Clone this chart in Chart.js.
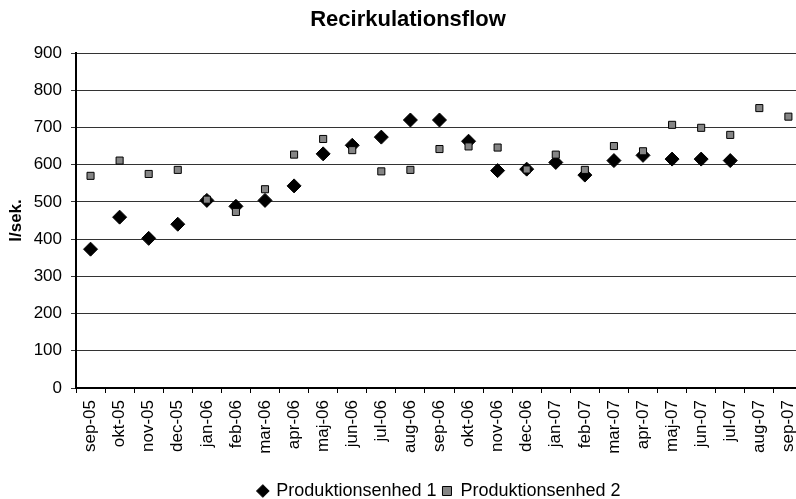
<!DOCTYPE html>
<html>
<head>
<meta charset="utf-8">
<title>Recirkulationsflow</title>
<script src="https://cdn.jsdelivr.net/npm/chart.js@4.4.0/dist/chart.umd.min.js"></script>
<style>
    html, body { margin: 0; padding: 0; background: #fff; overflow: hidden; }
    #wrap { width: 796px; height: 499px; overflow: hidden; }
    canvas { display: block; }
</style>
</head>
<body>
<div id="wrap">
    <canvas id="chart1" width="816" height="510"></canvas>
</div>
<script>
// Data
const months = ['sep-05', 'okt-05', 'nov-05', 'dec-05', 'jan-06', 'feb-06', 'mar-06', 'apr-06',
    'maj-06', 'jun-06', 'jul-06', 'aug-06', 'sep-06', 'okt-06', 'nov-06', 'dec-06',
    'jan-07', 'feb-07', 'mar-07', 'apr-07', 'maj-07', 'jun-07', 'jul-07', 'aug-07', 'sep-07'];
const enhed1 = [373, 459, 402, 440, 504, 488, 504, 543, 629, 652, 674, 720, 720,
    663, 584, 588, 606, 572, 611, 625, 615, 615, 611, null, null];
const enhed2 = [570, 611, 575, 586, 506, 473, 534, 627, 669, 639, 582, 586, 642,
    649, 646, 587, 627, 586, 650, 636, 707, 699, 680, 752, 729];
const yMin = 0;
const yMax = 900;
const yStep = 100;

const font = 'Liberation Sans, Arial, sans-serif';

document.addEventListener('DOMContentLoaded', () => {
    const ctx1 = document.getElementById('chart1').getContext('2d');
    new Chart(ctx1, {
        type: 'line',
        data: {
            labels: months,
            datasets: [{
                label: 'Produktionsenhed 1',
                data: enhed1,
                showLine: false,
                pointStyle: 'rectRot',
                pointRadius: 7,
                backgroundColor: '#000',
                borderColor: '#000',
                borderWidth: 1,
                order: 1
            }, {
                label: 'Produktionsenhed 2',
                data: enhed2,
                showLine: false,
                pointStyle: 'rect',
                pointRadius: 5,
                backgroundColor: '#858585',
                borderColor: '#000',
                borderWidth: 1,
                order: 0
            }]
        },
        options: {
            responsive: false,
            animation: false,
            // left padding nudges the title a bit to the right
            layout: { padding: { left: 10, right: 10, top: 0, bottom: 0 } },
            scales: {
                x: {
                    offset: true,
                    grid: {
                        offset: true,
                        drawOnChartArea: false,
                        tickLength: 5,
                        color: '#000'
                    },
                    border: { color: '#000', width: 2 },
                    ticks: {
                        autoSkip: false,
                        minRotation: 90,
                        maxRotation: 90,
                        padding: 7,
                        color: '#000',
                        font: { family: font, size: 17 }
                    },
                    afterFit: (scale) => { scale.height = 88; }
                },
                y: {
                    min: yMin,
                    max: yMax,
                    grid: { color: '#333', tickLength: 5 },
                    border: { color: '#000', width: 2 },
                    ticks: {
                        stepSize: yStep,
                        padding: 9,
                        color: '#000',
                        font: { family: font, size: 17 }
                    },
                    title: {
                        display: true,
                        text: 'l/sek.',
                        color: '#000',
                        padding: { top: -4, bottom: 0 },
                        font: { family: font, size: 17, weight: 'bold' }
                    },
                    afterFit: (scale) => { scale.width = 66; }
                }
            },
            plugins: {
                title: {
                    display: true,
                    text: 'Recirkulationsflow',
                    color: '#000',
                    padding: { top: 7, bottom: 19.6 },
                    font: { family: font, size: 22, weight: 'bold' }
                },
                legend: {
                    position: 'bottom',
                    fullSize: false,
                    labels: {
                        usePointStyle: true,
                        boxWidth: 9,
                        boxHeight: 9,
                        padding: 6,
                        color: '#000',
                        font: { family: font, size: 18 },
                        sort: (a, b) => a.datasetIndex - b.datasetIndex
                    }
                },
                tooltip: { enabled: false }
            }
        }
    });
});
</script>
</body>
</html>
